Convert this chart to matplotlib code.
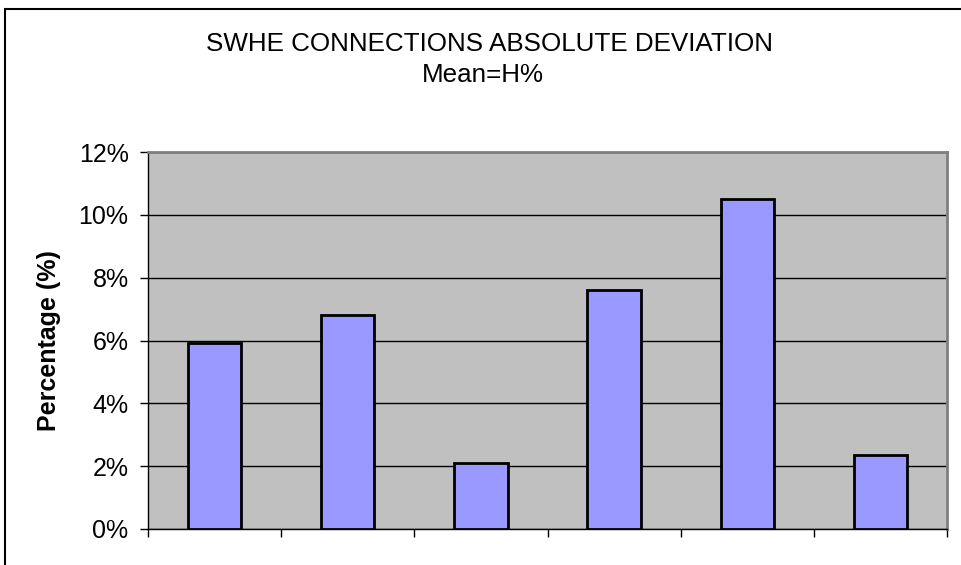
import matplotlib
matplotlib.use("Agg")
import matplotlib.pyplot as plt
from matplotlib.patches import Rectangle
from matplotlib.ticker import FuncFormatter

plt.rcParams['font.family'] = ['Liberation Sans', 'DejaVu Sans']

categories = ["1", "2", "3", "4", "5", "6"]
values = [5.93, 6.81, 2.11, 7.61, 10.49, 2.36]
yticks = [0, 2, 4, 6, 8, 10, 12]

W, H = 961, 565
fig = plt.figure(figsize=(W / 100, H / 100), dpi=100)
ax = fig.add_axes([148 / W, 1 - 529 / H, (947 - 148) / W, (529 - 152) / H])

ax.set_facecolor('#C0C0C0')
x = list(range(len(categories)))
ax.bar(x, values, width=0.4, color='#9999FF', edgecolor='black', linewidth=2, zorder=3)
ax.set_xlim(-0.5, len(categories) - 0.5)
ax.set_ylim(0, 12)
ax.set_yticks(yticks)
ax.yaxis.set_major_formatter(FuncFormatter(lambda v, p: f"{int(round(v))}%"))
ax.grid(axis='y', color='black', linewidth=1, zorder=1)
ax.set_axisbelow(True)

ax.set_xticks([i - 0.5 for i in range(len(categories) + 1)])
ax.set_xticklabels([])
ax.tick_params(axis='x', direction='out', length=6, width=1, color='black')
ax.tick_params(axis='y', direction='out', length=6, width=1, color='black', labelsize=18, pad=8)

for s in ['top', 'right']:
    ax.spines[s].set_color('#808080')
    ax.spines[s].set_linewidth(2)
for s in ['left', 'bottom']:
    ax.spines[s].set_color('black')
    ax.spines[s].set_linewidth(1)

ax.set_ylabel('Percentage (%)', fontsize=18, fontweight='bold')
ax.yaxis.set_label_coords((61 - 148) / (947 - 148), 0.5)

fig.text(489 / W, 1 - 44 / H, 'SWHE CONNECTIONS ABSOLUTE DEVIATION', ha='center', va='center', fontsize=18.7)
fig.text(483 / W, 1 - 75 / H, 'Mean=H%', ha='center', va='center', fontsize=18.7)

fig.patches.append(Rectangle((4.5 / W, -0.1), 1.2, 1 - 9 / H + 0.1, transform=fig.transFigure,
                             fill=False, edgecolor='black', linewidth=1.5))

fig.savefig('out.png', dpi=100)
